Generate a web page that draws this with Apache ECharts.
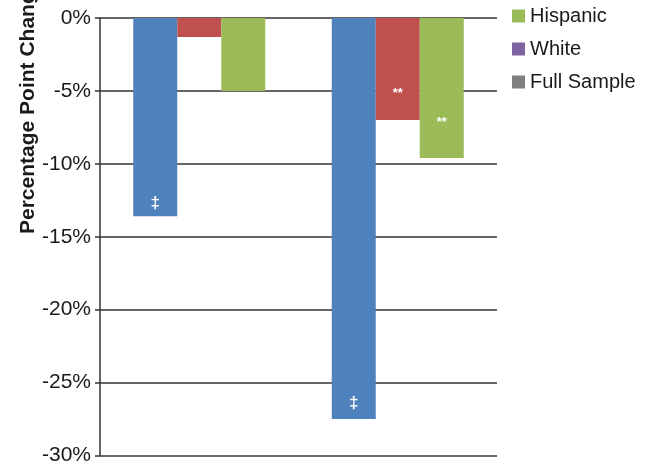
<!DOCTYPE html>
<html>
<head>
<meta charset="utf-8">
<script src="https://cdn.jsdelivr.net/npm/echarts@6/dist/echarts.min.js"></script>
<style>
  html, body { margin: 0; padding: 0; background: #fff; }
  #chart { width: 650px; height: 466px; }
</style>
</head>
<body>
<div id="chart"></div>
<script>
// data (percent change)
var groups = ['Group 1', 'Group 2'];
var blueVals = [-13.6, -27.5];
var redVals = [-1.3, -7.0];
var greenVals = [-5.0, -9.6];
var blueMarks = ['\u2021', '\u2021'];
var redMarks = ['', '**'];
var greenMarks = ['', '**'];
var yTicks = { min: -30, max: 0, step: 5 };

var chart = echarts.init(document.getElementById('chart'));

function withMarks(vals, marks, dist, size) {
  return vals.map(function (v, i) {
    if (!marks[i]) return v;
    return {
      value: v,
      label: {
        show: true,
        formatter: marks[i],
        position: 'insideBottom',
        distance: dist[i],
        color: '#fff',
        fontWeight: 'bold',
        fontSize: size,
        fontFamily: 'Liberation Sans, Arial, sans-serif'
      }
    };
  });
}

var lineColor = '#333';
var textColor = '#1a1a1a';

var option = {
  animation: false,
  backgroundColor: '#fff',
  grid: [
    { left: 100, right: 153, top: 18, bottom: 9 },
    { left: 0, top: 0, width: 1, height: 1, show: false }
  ],
  legend: {
    orient: 'vertical',
    left: 507,
    top: 1,
    itemWidth: 13,
    itemHeight: 13,
    itemGap: 13,
    icon: 'rect',
    data: ['Hispanic', 'White', 'Full Sample'],
    textStyle: { fontSize: 20, color: textColor, fontFamily: 'Liberation Sans, Arial, sans-serif' }
  },
  xAxis: [
    {
      type: 'category',
      data: groups,
      gridIndex: 0,
      axisLine: { show: false },
      axisTick: { show: false },
      axisLabel: { show: false }
    },
    { type: 'category', data: groups, gridIndex: 1, show: false }
  ],
  yAxis: [
    {
      type: 'value',
      gridIndex: 0,
      min: yTicks.min,
      max: yTicks.max,
      interval: yTicks.step,
      axisLine: { show: true, lineStyle: { color: lineColor, width: 1.5 } },
      axisTick: { show: true, length: 5, lineStyle: { color: lineColor, width: 1.5 } },
      splitLine: { show: true, lineStyle: { color: lineColor, width: 1.5 } },
      axisLabel: {
        formatter: '{value}%',
        fontSize: 21,
        color: textColor,
        margin: 9,
        fontFamily: 'Liberation Sans, Arial, sans-serif'
      }
    },
    { type: 'value', gridIndex: 1, show: false }
  ],
  graphic: [
    {
      type: 'text',
      x: 28,
      y: 234,
      rotation: Math.PI / 2,
      style: {
        text: 'Percentage Point Change',
        fontSize: 21,
        fontWeight: 'bold',
        fill: textColor,
        fontFamily: 'Liberation Sans, Arial, sans-serif',
        align: 'left',
        verticalAlign: 'middle'
      }
    }
  ],
  series: [
    {
      name: 'Black',
      type: 'bar',
      barWidth: 44,
      barGap: 0,
      itemStyle: { color: '#4F81BD' },
      data: withMarks(blueVals, blueMarks, [5, 7], 17)
    },
    {
      name: 'Asian',
      type: 'bar',
      barWidth: 44,
      barGap: 0,
      itemStyle: { color: '#C0504D' },
      data: withMarks(redVals, redMarks, [0, 20], 13)
    },
    {
      name: 'Hispanic',
      type: 'bar',
      barWidth: 44,
      barGap: 0,
      itemStyle: { color: '#9BBB59' },
      data: withMarks(greenVals, greenMarks, [0, 29], 13)
    },
    {
      name: 'White',
      type: 'bar',
      xAxisIndex: 1,
      yAxisIndex: 1,
      itemStyle: { color: '#8064A2' },
      data: []
    },
    {
      name: 'Full Sample',
      type: 'bar',
      xAxisIndex: 1,
      yAxisIndex: 1,
      itemStyle: { color: '#7F7F7F' },
      data: []
    }
  ]
};

chart.setOption(option);
</script>
</body>
</html>
